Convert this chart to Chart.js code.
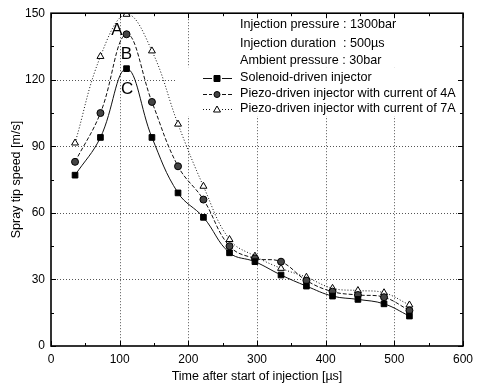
<!DOCTYPE html>
<html>
<head>
<meta charset="utf-8">
<script src="https://cdn.jsdelivr.net/npm/chart.js@4.4.1/dist/chart.umd.min.js"></script>
<style>
  html, body { margin: 0; padding: 0; background: #fff; }
  #wrap { width: 479px; height: 387px; }
</style>
</head>
<body>
<div id="wrap"><canvas id="chart" width="479" height="387"></canvas></div>
<script>
// data
const times = [35, 72, 110, 147, 185, 222, 260, 297, 335, 372, 410, 447, 485, 522];
const solenoid = [77, 94, 125, 94, 69, 58, 42, 38, 32, 27, 22.5, 21, 19, 13.5];
const piezo4A = [83, 105, 140.5, 110, 81, 66, 45, 39.5, 38, 29.5, 24.5, 23, 22, 16];
const piezo7A = [91.5, 130.5, 149.5, 133, 100, 72, 48, 40.5, 35, 31, 26, 25, 24, 18.5];

const seriesNames = [
  "Solenoid-driven injector",
  "Piezo-driven injector with current of 4A",
  "Piezo-driven injector with current of 7A"
];
const infoLines = [
  "Injection pressure : 1300bar",
  "Injection duration  : 500\u00b5s",
  "Ambient pressure : 30bar"
];
const peakLabels = [
  { text: "A", x: 96, y: 142.5 },
  { text: "B", x: 110, y: 131.5 },
  { text: "C", x: 111, y: 115.5 }
];
const xTicks = [0, 100, 200, 300, 400, 500, 600];
const yTicks = [0, 30, 60, 90, 120, 150];

const FONT = "'Liberation Sans', Arial, sans-serif";

function pts(ys) {
  return times.map((t, i) => ({ x: t, y: ys[i] }));
}

const styles = [
  { dash: [], pointStyle: "rect", fill: "#000", radius: 4 },
  { dash: [4, 2], pointStyle: "circle", fill: "#444", radius: 3.5 },
  { dash: [1, 2], pointStyle: "triangle", fill: "#fff", radius: 4 }
];

function makeSet(name, ys, st) {
  return {
    label: name,
    data: pts(ys),
    borderColor: "#111",
    borderWidth: 1,
    borderDash: st.dash,
    tension: 0.4,
    pointStyle: st.pointStyle,
    pointRadius: st.radius,
    pointBackgroundColor: st.fill,
    pointBorderColor: "#000",
    pointBorderWidth: 1
  };
}

// dotted grid + white box behind the legend (under the curves)
const backLayer = {
  id: "backLayer",
  beforeDatasetsDraw(chart) {
    const ctx = chart.ctx;
    const a = chart.chartArea;
    const xs = chart.scales.x;
    const ys = chart.scales.y;
    ctx.save();
    ctx.strokeStyle = "#555";
    ctx.lineWidth = 1;
    ctx.setLineDash([1, 2]);
    ctx.beginPath();
    xTicks.slice(1, -1).forEach(v => {
      const px = Math.round(xs.getPixelForValue(v)) + 0.5;
      ctx.moveTo(px, a.top); ctx.lineTo(px, a.bottom);
    });
    yTicks.slice(1, -1).forEach(v => {
      const py = Math.round(ys.getPixelForValue(v)) + 0.5;
      ctx.moveTo(a.left, py); ctx.lineTo(a.right, py);
    });
    ctx.stroke();
    ctx.setLineDash([]);
    ctx.fillStyle = "#fff";
    ctx.fillRect(198, a.top + 1, a.right - 199, 53);
    ctx.fillRect(175, a.top + 54, a.right - 176, 49);
    ctx.restore();
  }
};

const decor = {
  id: "decor",
  afterDraw(chart) {
    const ctx = chart.ctx;
    const a = chart.chartArea;
    const xs = chart.scales.x;
    const ys = chart.scales.y;
    ctx.save();

    // ticks inward on all sides
    ctx.strokeStyle = "#000";
    ctx.lineWidth = 1;
    ctx.beginPath();
    for (let v = 0; v <= 600; v += 50) {
      const px = Math.round(xs.getPixelForValue(v)) + 0.5;
      const len = v % 100 === 0 ? 5 : 3;
      ctx.moveTo(px, a.bottom); ctx.lineTo(px, a.bottom - len);
      ctx.moveTo(px, a.top); ctx.lineTo(px, a.top + len);
    }
    for (let v = 0; v <= 150; v += 15) {
      const py = Math.round(ys.getPixelForValue(v)) + 0.5;
      const len = v % 30 === 0 ? 5 : 3;
      ctx.moveTo(a.left, py); ctx.lineTo(a.left + len, py);
      ctx.moveTo(a.right, py); ctx.lineTo(a.right - len, py);
    }
    ctx.stroke();

    // frame
    ctx.lineWidth = 1.6;
    ctx.strokeRect(a.left, a.top, a.right - a.left, a.bottom - a.top);

    // A B C labels
    ctx.fillStyle = "#000";
    ctx.font = "17px " + FONT;
    ctx.textAlign = "center";
    ctx.textBaseline = "middle";
    peakLabels.forEach(p => {
      ctx.fillText(p.text, xs.getPixelForValue(p.x), ys.getPixelForValue(p.y));
    });

    // info text + legend
    ctx.font = "12.6px " + FONT;
    ctx.textAlign = "left";
    const infoY = [25, 44, 61];
    infoLines.forEach((t, i) => ctx.fillText(t, 240, infoY[i]));

    const legY = [78, 94, 109];
    seriesNames.forEach((name, i) => {
      const st = styles[i];
      const y = legY[i] + 0.5;
      ctx.strokeStyle = "#111";
      ctx.lineWidth = 1;
      ctx.setLineDash(st.dash);
      ctx.beginPath();
      ctx.moveTo(203, y); ctx.lineTo(212, y);
      ctx.moveTo(222, y); ctx.lineTo(232, y);
      ctx.stroke();
      ctx.setLineDash([]);
      ctx.fillStyle = st.fill;
      ctx.strokeStyle = "#000";
      ctx.beginPath();
      if (st.pointStyle === "rect") {
        ctx.rect(214, y - 3, 6, 6);
      } else if (st.pointStyle === "circle") {
        ctx.arc(217, y, 3, 0, Math.PI * 2);
      } else {
        ctx.moveTo(217, y - 3.5); ctx.lineTo(220.5, y + 2.5); ctx.lineTo(213.5, y + 2.5); ctx.closePath();
      }
      ctx.fill();
      ctx.stroke();
      ctx.fillStyle = "#000";
      ctx.fillText(name, 240, legY[i]);
    });
    ctx.restore();
  }
};

new Chart(document.getElementById("chart"), {
  type: "line",
  data: {
    datasets: [
      makeSet(seriesNames[0], solenoid, styles[0]),
      makeSet(seriesNames[1], piezo4A, styles[1]),
      makeSet(seriesNames[2], piezo7A, styles[2])
    ]
  },
  options: {
    responsive: false,
    animation: false,
    layout: { padding: { top: 13, right: 15, left: 0, bottom: 0 } },
    plugins: { legend: { display: false }, tooltip: { enabled: false } },
    scales: {
      x: {
        type: "linear",
        min: 0, max: 600,
        afterFit(s) { s.height = 41; },
        afterBuildTicks(s) { s.ticks = xTicks.map(v => ({ value: v })); },
        grid: { display: false, drawTicks: false },
        border: { display: false },
        ticks: { color: "#000", padding: 6, maxRotation: 0, font: { family: FONT, size: 12 } },
        title: {
          display: true, text: "Time after start of injection [\u00b5s]", color: "#000",
          padding: { top: 0, bottom: 3 }, font: { family: FONT, size: 12.5 }
        }
      },
      y: {
        type: "linear",
        min: 0, max: 150,
        afterFit(s) { s.width = 51; },
        afterBuildTicks(s) { s.ticks = yTicks.map(v => ({ value: v })); },
        grid: { display: false, drawTicks: false },
        border: { display: false },
        ticks: { color: "#000", padding: 6, font: { family: FONT, size: 12 } },
        title: {
          display: true, text: "Spray tip speed [m/s]", color: "#000",
          padding: { top: 9, bottom: 0 }, font: { family: FONT, size: 12.5 }
        }
      }
    }
  },
  plugins: [backLayer, decor]
});
</script>
</body>
</html>
